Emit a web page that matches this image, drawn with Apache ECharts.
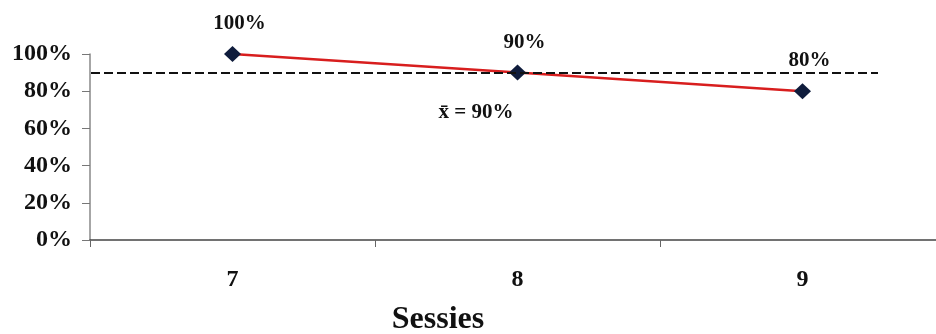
<!DOCTYPE html>
<html>
<head>
<meta charset="utf-8">
<script src="https://cdn.jsdelivr.net/npm/echarts@6/dist/echarts.min.js"></script>
<style>
  html, body { margin: 0; padding: 0; background: #ffffff; overflow: hidden; }
  #chart { width: 946px; height: 334px; }
</style>
</head>
<body>
<div id="chart"></div>
<script>
// Sessions and their score percentages
const sessions = ['7', '8', '9'];
const scores = [100, 90, 80];
const yTicks = [0, 20, 40, 60, 80, 100];
const meanScore = 90;
const axisTitle = 'Sessies';

const serif = 'Liberation Serif';
const ink = '#111111';

const chart = echarts.init(document.getElementById('chart'));

chart.setOption({
  backgroundColor: '#ffffff',
  animation: false,
  grid: { left: 90, top: 54, width: 855, height: 186 },
  xAxis: {
    type: 'category',
    data: sessions,
    boundaryGap: true,
    axisLine: { lineStyle: { color: '#444444', width: 1.5 } },
    axisTick: { show: true, inside: false, length: 7, lineStyle: { color: '#666666', width: 1 } },
    axisLabel: { margin: 28, fontFamily: serif, fontWeight: 'bold', fontSize: 24, color: ink },
    splitLine: { show: false }
  },
  yAxis: {
    type: 'value',
    min: yTicks[0],
    max: yTicks[yTicks.length - 1],
    interval: yTicks[1] - yTicks[0],
    axisLine: { show: true, lineStyle: { color: '#888888', width: 1.5 } },
    axisTick: { show: true, inside: false, length: 8, lineStyle: { color: '#777777', width: 1 } },
    axisLabel: {
      margin: 18,
      fontFamily: serif, fontWeight: 'bold', fontSize: 24, color: ink,
      formatter: v => v + '%'
    },
    splitLine: { show: false }
  },
  graphic: [
    {
      type: 'text',
      x: 438, y: 320,
      style: {
        text: axisTitle,
        fontFamily: serif, fontWeight: 'bold', fontSize: 32,
        fill: ink,
        align: 'center',
        verticalAlign: 'middle'
      }
    },
    {
      type: 'text',
      x: 476, y: 113,
      style: {
        text: 'x\u0304 = ' + meanScore + '%',
        fontFamily: serif, fontWeight: 'bold', fontSize: 21,
        fill: ink,
        align: 'center',
        verticalAlign: 'middle'
      }
    }
  ],
  series: [
    {
      type: 'line',
      data: scores,
      symbol: 'diamond',
      symbolSize: [17, 16],
      lineStyle: { color: '#d81e1e', width: 2.5 },
      itemStyle: { color: '#0f1c3c' },
      label: {
        show: true,
        position: 'top',
        distance: 12,
        offset: [7, 0],
        fontFamily: serif, fontWeight: 'bold', fontSize: 21, color: ink,
        formatter: p => p.value + '%'
      },
      markLine: {
        silent: true,
        symbol: ['none', 'none'],
        label: { show: false },
        lineStyle: { color: '#111111', type: [9, 4], width: 2 },
        data: [[
          { yAxis: meanScore, x: 91 },
          { yAxis: meanScore, x: 878 }
        ]]
      },
      z: 3
    }
  ]
});
</script>
</body>
</html>
